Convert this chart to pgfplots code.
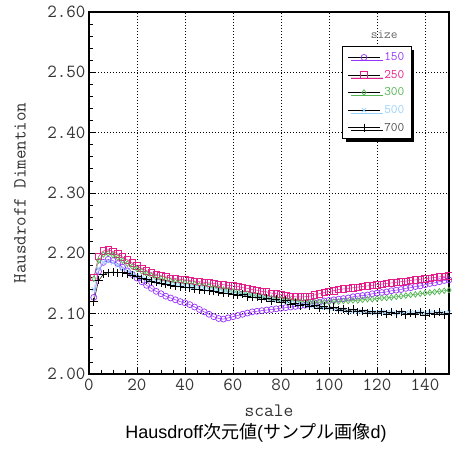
\documentclass[border=0pt]{standalone}
\usepackage{pgfplots}
\pgfplotsset{compat=1.18}
\usepackage{pgfplotstable}
\usepackage{fontspec}
\setmainfont{Liberation Sans}
\newfontfamily\cjk{Noto Sans CJK JP}
\newfontfamily\mono{Latin Modern Mono}
\usetikzlibrary{shadows}
\definecolor{c150}{RGB}{153,51,255}
\definecolor{c250}{RGB}{230,30,140}
\definecolor{c300}{RGB}{80,180,80}
\definecolor{c500}{RGB}{150,210,255}
\definecolor{c700}{RGB}{0,0,0}
\newcommand{\tk}[1]{{\fontsize{18.5bp}{20bp}\mono #1}}
\newcommand{\lgd}[2]{{\fontsize{13bp}{15bp}\mono\textcolor{#1}{#2}}}

\pgfplotstableread{
x a b c d e
2 2.127 2.160 2.158 2.140 2.120
4 2.170 2.195 2.188 2.175 2.155
6 2.185 2.204 2.198 2.185 2.165
8 2.190 2.206 2.200 2.187 2.168
10 2.188 2.203 2.197 2.184 2.169
12 2.183 2.199 2.193 2.180 2.168
14 2.177 2.194 2.188 2.175 2.168
16 2.171 2.189 2.183 2.171 2.166
18 2.165 2.184 2.178 2.167 2.164
20 2.159 2.179 2.174 2.163 2.161
22 2.153 2.175 2.170 2.160 2.158
24 2.147 2.171 2.166 2.157 2.156
26 2.142 2.168 2.163 2.155 2.154
28 2.137 2.165 2.160 2.153 2.152
30 2.133 2.163 2.158 2.151 2.150
32 2.129 2.161 2.156 2.150 2.149
34 2.126 2.159 2.154 2.149 2.147
36 2.123 2.158 2.153 2.148 2.146
38 2.120 2.157 2.152 2.147 2.145
40 2.118 2.156 2.151 2.146 2.144
42 2.115 2.155 2.150 2.145 2.143
44 2.111 2.154 2.149 2.144 2.141
46 2.107 2.153 2.147 2.143 2.140
48 2.103 2.152 2.146 2.142 2.139
50 2.099 2.151 2.145 2.140 2.138
52 2.095 2.150 2.143 2.139 2.137
54 2.092 2.149 2.142 2.138 2.136
56 2.091 2.148 2.140 2.137 2.134
58 2.093 2.147 2.139 2.136 2.134
60 2.095 2.146 2.137 2.135 2.132
62 2.097 2.145 2.136 2.134 2.131
64 2.099 2.143 2.134 2.132 2.132
66 2.101 2.142 2.133 2.131 2.128
68 2.103 2.140 2.131 2.130 2.127
70 2.104 2.139 2.130 2.128 2.127
72 2.105 2.137 2.128 2.127 2.124
74 2.106 2.136 2.127 2.125 2.126
76 2.107 2.134 2.126 2.124 2.121
78 2.108 2.133 2.125 2.122 2.124
80 2.109 2.132 2.124 2.121 2.118
82 2.110 2.130 2.123 2.119 2.122
84 2.111 2.129 2.122 2.118 2.116
86 2.112 2.128 2.121 2.117 2.117
88 2.113 2.128 2.120 2.116 2.113
90 2.114 2.128 2.119 2.115 2.116
92 2.116 2.129 2.119 2.113 2.112
94 2.118 2.131 2.119 2.112 2.114
96 2.119 2.133 2.119 2.111 2.109
98 2.121 2.135 2.119 2.110 2.112
100 2.122 2.137 2.119 2.109 2.108
102 2.123 2.138 2.120 2.108 2.111
104 2.124 2.140 2.120 2.107 2.106
106 2.125 2.141 2.121 2.106 2.108
108 2.126 2.142 2.121 2.105 2.104
110 2.128 2.143 2.122 2.104 2.107
112 2.129 2.144 2.122 2.104 2.103
114 2.130 2.145 2.123 2.103 2.105
116 2.131 2.146 2.124 2.103 2.101
118 2.133 2.147 2.124 2.102 2.104
120 2.134 2.148 2.125 2.102 2.100
122 2.135 2.149 2.126 2.103 2.103
124 2.136 2.150 2.126 2.102 2.099
126 2.138 2.151 2.127 2.102 2.102
128 2.139 2.152 2.128 2.101 2.100
130 2.140 2.153 2.129 2.102 2.103
132 2.142 2.154 2.130 2.101 2.098
134 2.143 2.155 2.131 2.102 2.101
136 2.145 2.156 2.132 2.101 2.099
138 2.146 2.157 2.133 2.102 2.102
140 2.148 2.158 2.134 2.101 2.097
142 2.150 2.159 2.135 2.102 2.101
144 2.151 2.160 2.136 2.101 2.099
146 2.153 2.161 2.137 2.102 2.102
148 2.155 2.162 2.138 2.101 2.098
150 2.156 2.163 2.139 2.102 2.100
}\data

\begin{document}
\begin{tikzpicture}
\begin{axis}[name=ax, scale only axis, width=360bp, height=362bp,
  xmin=0, xmax=150, ymin=2, ymax=2.6,
  xtick={0,20,40,60,80,100,120,140},
  xticklabels={\tk{0},\tk{20},\tk{40},\tk{60},\tk{80},\tk{100},\tk{120},\tk{140}},
  ytick={2.0,2.1,2.2,2.3,2.4,2.5,2.6},
  yticklabels={\tk{2.00},\tk{2.10},\tk{2.20},\tk{2.30},\tk{2.40},\tk{2.50},\tk{2.60}},
  minor x tick num=3, minor y tick num=4,
  tick pos=left, tick align=inside,
  major tick length=6bp, minor tick length=4bp,
  grid=major,
  major grid style={black, dash pattern=on 1.2bp off 1.8bp, line width=0.8bp},
  axis line style={line width=1.2bp},
  every tick/.style={black, line width=0.8bp},
  xticklabel style={text=black!80, yshift=-1bp},
  yticklabel style={text=black!80},
  legend style={at={(rel axis cs:0.703,0.906)}, anchor=north west,
    draw=black, line width=1.2bp, fill=white,
    drop shadow={shadow xshift=3bp, shadow yshift=-3bp, fill=black, opacity=1},
    inner xsep=5bp, inner ysep=4bp,
    row sep=4bp, column sep=2bp, cells={anchor=west}},
  legend image code/.code={
    \draw[black, line width=0.6bp, mark=none] (0bp,0bp) -- (32bp,0bp);
    \draw[only marks, line width=0.7bp] plot coordinates {(16bp,0bp)};},
]
\addplot[draw=c150, line width=0.5bp, mark=o, mark size=3bp, mark options={line width=0.7bp}] table[x=x,y=a] {\data};
\addlegendentry{\lgd{c150}{150}}
\addplot[draw=c250, line width=0.5bp, mark=square, mark size=3.2bp, mark options={line width=0.7bp}] table[x=x,y=b] {\data};
\addlegendentry{\lgd{c250}{250}}
\addplot[draw=c300, line width=0.5bp, mark=diamond, mark size=2.8bp, mark options={line width=0.7bp}] table[x=x,y=c] {\data};
\addlegendentry{\lgd{c300}{300}}
\addplot[draw=c500, line width=0.5bp, mark=x, mark size=3bp, mark options={line width=0.7bp}] table[x=x,y=d] {\data};
\addlegendentry{\lgd{c500}{500}}
\addplot[draw=c700, line width=0.5bp, mark=+, mark size=4bp, mark options={line width=0.8bp}] table[x=x,y=e] {\data};
\addlegendentry{\lgd{black!70}{700}}
\node[font=\fontsize{13bp}{15bp}\selectfont\mono\bfseries, text=black!60] at (axis cs:123,2.562) {size};
\end{axis}
\node[rotate=90, font=\fontsize{18.5bp}{20bp}\selectfont\mono, text=black!80] at ([xshift=-69bp]ax.west) {Hausdroff Dimention};
\node[font=\fontsize{19bp}{21bp}\selectfont\mono, text=black!80] at ([yshift=-37bp]ax.south) {scale};
\node[font=\fontsize{18bp}{20bp}\selectfont] at ([xshift=-13bp,yshift=-59bp]ax.south) {Hausdroff{\cjk 次元値}({\cjk サンプル画像}d)};
\pgfresetboundingbox
\path (ax.south west) ++(-89bp,-76bp) rectangle ([shift={(3bp,12bp)}]ax.north east);
\end{tikzpicture}
\end{document}
